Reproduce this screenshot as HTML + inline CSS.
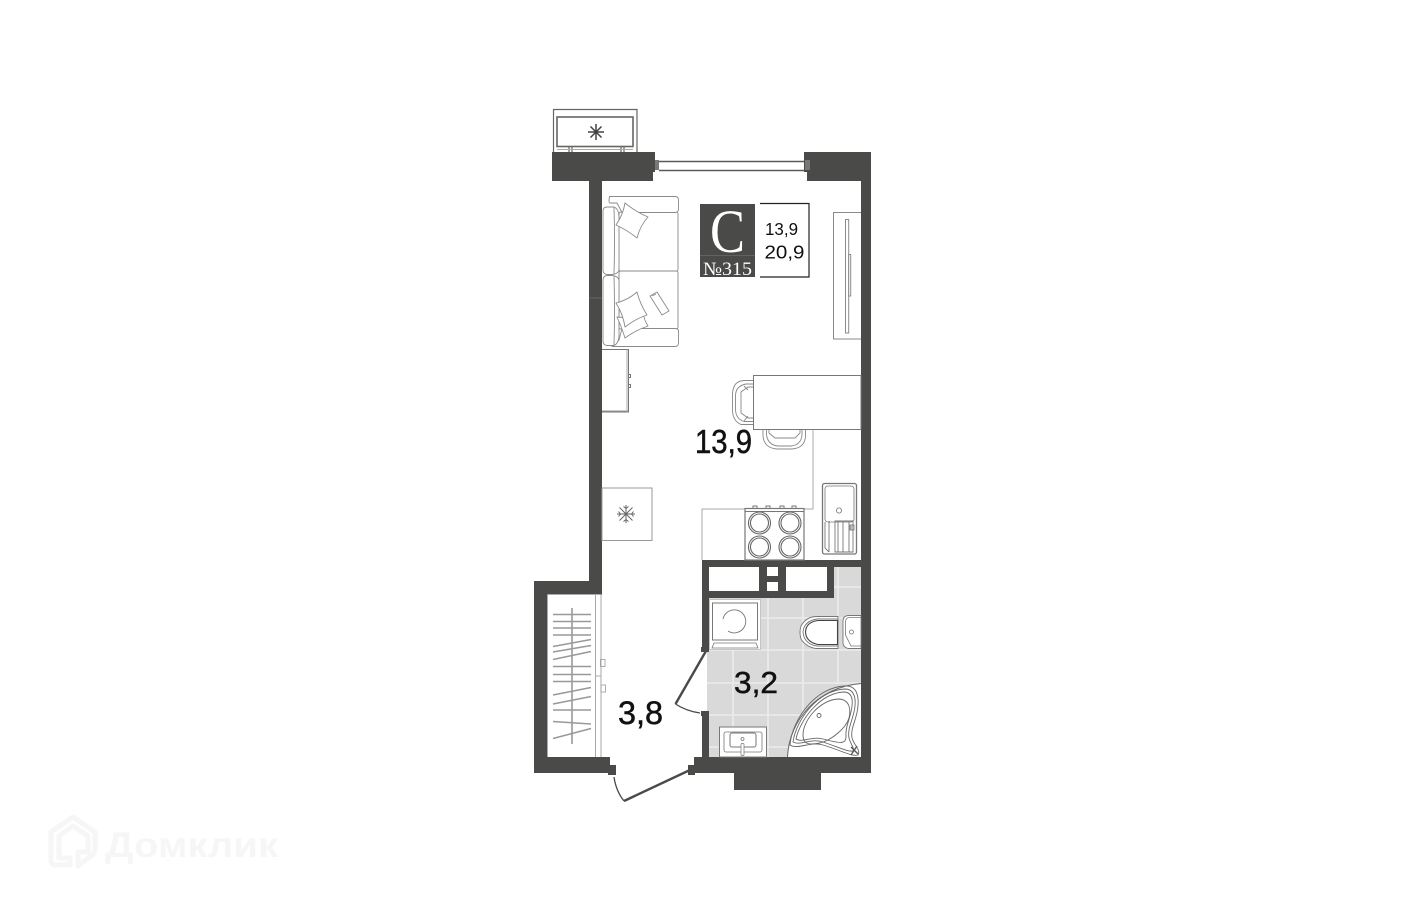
<!DOCTYPE html>
<html><head><meta charset="utf-8"><style>
html,body{margin:0;padding:0;background:#fff}
svg{display:block}
text{font-family:"Liberation Sans",sans-serif}
</style></head><body>
<svg width="1416" height="901" viewBox="0 0 1416 901" xmlns="http://www.w3.org/2000/svg">
<rect width="1416" height="901" fill="#fff"/>
<!-- watermark -->
<g fill="none" stroke="#f6f6f6" stroke-width="5" stroke-linejoin="round">
<path d="M73 817 L95 832 V850 Q95 853 92 855 L78 866 V852 H88 V836 L73 826 L59 836 V858 H70 V865 H56 Q51 865 51 860 V832 Z"/>
</g>
<text x="105" y="857" font-size="35" font-weight="bold" fill="#f6f6f6" textLength="173" lengthAdjust="spacingAndGlyphs">Домклик</text>
<!-- tiles -->
<rect x="707" y="567" width="154" height="190" fill="#d9d9d9"/>
<g stroke="#ececec" stroke-width="1.6">
<path d="M733 650V757M768 598V757M803 598V757M838 567V684M707 650H861M707 683H861M707 715H800M707 747H800M761 618H861M834 587H861"/>
</g>
<!-- white rooms in shaft -->
<g fill="#fff">
<rect x="709" y="567" width="50" height="24"/>
<rect x="767" y="567" width="11" height="9"/>
<rect x="767" y="582" width="11" height="9"/>
<rect x="786" y="567" width="41" height="24"/>
</g>
<!-- walls -->
<g fill="#4a4a48">
<rect x="552" y="152" width="103" height="20"/>
<rect x="552" y="170" width="101" height="11"/>
<rect x="804" y="152" width="67" height="20"/>
<rect x="807" y="170" width="64" height="11"/>
<rect x="589" y="181" width="13" height="414"/>
<rect x="861" y="152" width="10" height="621"/>
<rect x="534" y="581" width="68" height="14"/>
<rect x="534" y="581" width="13" height="192"/>
<rect x="534" y="757" width="76" height="16"/>
<rect x="694" y="757" width="177" height="16"/>
<rect x="734" y="773" width="87" height="17"/>
<rect x="702" y="560" width="159" height="7"/>
<path fill-rule="evenodd" d="M702 560H834V598H702ZM709 567V591H759V567ZM767 567V576H778V567ZM767 582V591H778V582ZM786 567V591H827V567Z"/>
<rect x="702" y="560" width="7" height="90"/>
<rect x="702" y="713" width="7" height="44"/>
<rect x="701" y="647" width="8" height="5"/>
<rect x="701" y="711" width="8" height="5"/>
<rect x="608" y="765" width="8" height="10"/>
<rect x="688" y="765" width="7" height="10"/>
</g>
<rect x="805" y="160" width="5" height="10" fill="#777"/>
<rect x="655" y="160" width="4" height="10" fill="#777"/>
<path d="M589 298H602" stroke="#666" stroke-width="1"/>
<!-- window -->
<g fill="none" stroke="#5a5a5a" stroke-width="1.500">
<path d="M659 161.500H804M659 170.500H804"/>
</g>
<!-- AC -->
<g fill="none" stroke="#666">
<path d="M553.500 152V109.500H637V152" stroke-width="1.200"/>
<rect x="557" y="117" width="76" height="29.500" stroke-width="1.600"/>
<path d="M569 147V152M572 147V152M621 147V152M624 147V152" stroke-width="1.200"/>
<path d="M557 149.500H633" stroke="#aaa" stroke-width="1"/>
<path d="M596 124V140M588 132H604M590.500 126.500L601.500 137.500M601.500 126.500L590.500 137.500" stroke="#444" stroke-width="1.500"/>
</g>
<!-- sofa -->
<g fill="#fff" stroke="#8a8a8a" stroke-width="0.9" stroke-linejoin="round">
<rect x="619" y="212" width="59" height="59.500" rx="2"/>
<rect x="619" y="271" width="59" height="58" rx="2"/>
<path d="M609.500 196.500H675Q678.500 196.500 678.500 200V209Q678.500 212.500 675 212.500H622L617 203Q616 203 615 203H610Q609 203 609 200Z"/>
<path d="M622 328.500H675Q678.500 328.500 678.500 331V343Q678.500 346.500 675 346.500H612L619 340Z"/>
<path d="M607 207H614Q619 209 619 218V270Q618 274 612 274.500H607Q603 274 603 270V211Q603 207 607 207Z"/>
<path d="M607 275.500H612Q618 276 619 280V337Q618 344 614 345.500H607Q603 345 603 341V280Q603 276 607 275.500Z"/>
<path d="M614 207Q615 240 614 274M614 276Q615 310 614 345" fill="none"/>
<path d="M625 203Q636 212 648 217Q640 226 637 238Q627 230 616 225Q623 215 625 203Z"/>
<path d="M617 317Q622 328 625 338Q636 330 648 326Q644 320 643 312L630 318Z"/>
<path d="M637 292Q640 304 647 315Q635 319 625 327Q623 314 616 303Q628 300 637 292Z"/>
<path d="M650 296L657 292L669 311L662 315Z"/>
<path d="M652 296L656 294" fill="none"/>
</g>
<!-- wardrobe -->
<g fill="#fff" stroke="#8a8a8a" stroke-width="1">
<path d="M861 212.500H833.500V339H861"/>
<rect x="845.500" y="219.500" width="3.200" height="113.500"/>
<rect x="848.700" y="254.500" width="2" height="41.500"/>
</g>
<!-- badge -->
<rect x="700" y="204" width="55" height="73" fill="#4a4a48"/>
<path d="M700 255.500H755" stroke="#6b6b6b" stroke-width="0.800"/>
<text x="710" y="252" font-size="61" fill="#fff" textLength="35" lengthAdjust="spacingAndGlyphs" style="font-family:'Liberation Serif',serif">C</text>
<text x="703" y="275" font-size="19" fill="#fff" textLength="49" lengthAdjust="spacingAndGlyphs" style="font-family:'Liberation Serif',serif">№315</text>
<path d="M760 203.500H809V277H760" fill="none" stroke="#222" stroke-width="1.200"/>
<text x="765" y="235" font-size="17.500" fill="#111" textLength="33" lengthAdjust="spacingAndGlyphs">13,9</text>
<text x="764.500" y="258.500" font-size="18" fill="#111" textLength="40" lengthAdjust="spacingAndGlyphs">20,9</text>
<!-- cabinet -->
<g fill="#fff" stroke="#777" stroke-width="1">
<path d="M602 349.500H628.500V412H602"/>
<path d="M627 349.500V412" stroke="#aaa"/>
<rect x="628.500" y="374.500" width="2" height="3"/>
<rect x="628.500" y="384.500" width="2" height="3"/>
<path d="M602 411H628" stroke="#999"/>
</g>
<!-- chairs -->
<g fill="#fff" stroke="#888" stroke-width="0.900">
<path d="M753 380.500H744Q732.500 381 732.500 395V411Q733 421 741 424.500H753"/>
<path d="M753 384H746Q735.500 386 735.500 396V410Q736 419 744 421.500H753"/>
<path d="M753 387H748L741 392V413L748 418H753"/>
<path d="M744 386L748 390M744 421L748 416" fill="none"/>
<path d="M763 429V436Q764 448 777 449H792Q805 448 805.500 436V429"/>
<path d="M766.500 429V435Q768 445 778 446H791Q801 445 802 435V429"/>
<path d="M769 429V433L775 438H795L800 433V429"/>
</g>
<!-- table -->
<rect x="753.500" y="375.500" width="107.500" height="54" fill="#fff" stroke="#777" stroke-width="1"/>
<!-- counter -->
<path d="M813 429.500V509H702V560" fill="none" stroke="#aaa" stroke-width="1"/>
<!-- stove -->
<g fill="none" stroke="#777">
<rect x="745" y="508.500" width="59" height="51.500" fill="#fff" stroke-width="1.200"/>
<path d="M745 511.500H804" stroke-width="1"/>
<path d="M753 508V506H757V508M766 508V506H770V508M780 508V506H784V508M792 508V506H796V508" stroke-width="1"/>
<g stroke="#666" stroke-width="1.100">
<circle cx="759.500" cy="523" r="11"/><circle cx="759.500" cy="523" r="9"/>
<circle cx="790" cy="523" r="11"/><circle cx="790" cy="523" r="9"/>
<circle cx="759.500" cy="547" r="11"/><circle cx="759.500" cy="547" r="9"/>
<circle cx="790" cy="547" r="11"/><circle cx="790" cy="547" r="9"/>
</g>
</g>
<!-- sink -->
<g fill="#fff" stroke="#777">
<rect x="822.500" y="483.500" width="34" height="70.500" rx="2" stroke-width="1.300"/>
<rect x="825" y="486" width="29" height="36" rx="3" stroke-width="0.800"/>
<circle cx="839" cy="510.500" r="2.600" stroke-width="0.800"/>
<path d="M829 521V552M835 521H853V552H835ZM838 522V552M843 522V552M849 522V552M825 522V548L829 552" fill="none" stroke-width="0.900"/>
<rect x="850" y="525" width="4" height="5" stroke-width="0.800" fill="#bbb"/>
</g>
<!-- fridge -->
<rect x="602" y="488" width="50" height="52.500" fill="#fff" stroke="#999" stroke-width="1"/>
<g stroke="#666" stroke-width="1" fill="none">
<path d="M626 505V523M617 514H635M619.500 507.500L632.500 520.500M632.500 507.500L619.500 520.500"/>
<path d="M623.500 506.500L626 508.500L628.500 506.500M623.500 521.500L626 519.500L628.500 521.500M618.500 511.500L620.500 514L618.500 516.500M633.500 511.500L631.500 514L633.500 516.500"/>
</g>
<!-- washer -->
<rect x="709.500" y="599.500" width="51" height="50" fill="#fff" stroke="#bbb" stroke-width="0.800"/>
<g fill="#fff" stroke="#777">
<rect x="712.500" y="603" width="45" height="37" stroke-width="1"/>
<path d="M723 619A11.500 11.500 0 1 1 728 631" fill="none" stroke-width="0.900"/>
<path d="M714 643H756L758 648H712Z" stroke-width="0.800"/>
</g>
<!-- toilet -->
<g fill="#fff" stroke="#777">
<path d="M838 616.500H816Q806 617 801 626Q799 632 801 639Q806 647 816 648.500H838Z" stroke-width="0.900"/>
<path d="M838 619H817Q804 621 803 632Q804 644 817 646H838Z" stroke-width="0.900"/>
<path d="M837.500 620.500H818Q806 622 805.500 632Q806 642 818 644.500H837.500Z" stroke="#444" stroke-width="1.100"/>
<path d="M861 615.500H848Q843 616 843 621V643Q843 647 848 648.500H861Z" stroke-width="0.900"/>
<path d="M861 617.500H849Q845.500 618 845.500 622V635L851 646H861Z" stroke-width="0.800"/>
<circle cx="851.500" cy="632" r="2" stroke-width="0.800"/>
</g>
<!-- bath -->
<path d="M787.500 757C789 720 818 687 861 683.500V757Z" fill="#fff"/>
<g fill="none" stroke="#666" stroke-width="0.900">
<path d="M787.500 757C789 720 818 687 861 683.500" stroke-width="1"/>
<path d="M790 745C792 720 815 687 845 686C856 685 859 695 858 706C857 720 850 728 852 738C854 745 861 750 858 755C852 757 840 750 823 745C810 741 798 750 790 745Z"/>
<path d="M793 742C796 720 818 690 845 689C853 689 856 696 855 706C854 718 847 728 849 738C851 745 855 749 853 751C848 752 838 747 823 742C810 738 800 746 793 742Z"/>
<path d="M796 739C800 720 820 693 844 692C851 692 853 698 852 706C851 717 845 727 846 736C846 744 842 744 823 739C812 736 802 743 796 739Z"/>
<path d="M803 735C803 720 820 700 838 699C850 699 851 710 849 718C846 728 832 740 820 743C810 745 803 745 803 735Z"/>
<circle cx="819" cy="715.500" r="2"/>
<path d="M851 747L858 754M857 746L851 755" stroke="#555" stroke-width="1.300"/>
</g>
<!-- wash basin -->
<g fill="#fff" stroke="#777">
<rect x="719.500" y="727" width="47" height="30" stroke-width="1"/>
<rect x="724" y="732" width="38" height="20" rx="2" stroke-width="0.800"/>
<rect x="730" y="733" width="26" height="14" rx="2" stroke-width="1"/>
<circle cx="742.500" cy="739" r="1.500" stroke-width="0.800"/>
<rect x="741" y="743.500" width="3" height="12" rx="1" stroke-width="0.700"/>
</g>
<!-- hall closet -->
<g fill="none">
<path d="M547.500 594.500H601V757M595.500 594.500V757M547.500 594.500V757" stroke="#aaa" stroke-width="1"/>
<path d="M601 676H596" stroke="#aaa" stroke-width="1"/>
<rect x="600.500" y="659.500" width="4.500" height="7" stroke="#999" stroke-width="0.800"/>
<rect x="601" y="685" width="4.500" height="7" stroke="#999" stroke-width="0.800"/>
<path d="M572 608V744M553 614.500H591M553 621.500H591M553 628H591M553 635H591M553 646.500L591 639.500M553 652L591 645.500M553 659.500L591 651.500M553 666.500H591M553 674.500H591M553 681.500H591M553 695L591 687.500M553 704L591 696.500M553 710H591M553 721.500L591 724M553 738.500L591 728.500" stroke="#999" stroke-width="1.600"/>
</g>
<!-- doors -->
<g fill="none" stroke="#4a4a48">
<path d="M706 651L675.500 704" stroke-width="2.400"/>
<path d="M675.500 704Q686 711 700 713" stroke-width="1.300"/>
<path d="M690 770L624 801" stroke-width="2.400"/>
<path d="M614 777Q616 791 624 801" stroke-width="1.300"/>
</g>
<!-- labels -->
<g fill="#111" stroke="#111" stroke-width="0.500">
<text x="695" y="453" font-size="33" textLength="57" lengthAdjust="spacingAndGlyphs">13,9</text>
<text x="734" y="693" font-size="31" textLength="44" lengthAdjust="spacingAndGlyphs">3,2</text>
<text x="618" y="724" font-size="32" textLength="45" lengthAdjust="spacingAndGlyphs">3,8</text>
</g>
</svg>
</body></html>
